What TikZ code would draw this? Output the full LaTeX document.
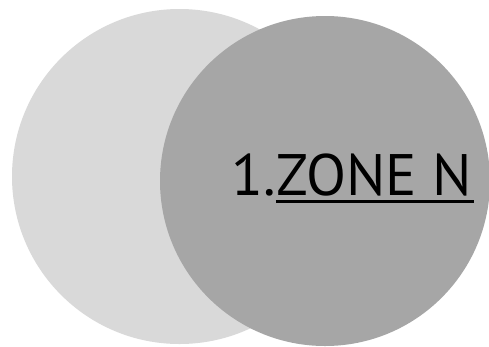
\documentclass[tikz,border=0pt]{standalone}
\usepackage{fontspec}
\setmainfont{PT Sans}
\definecolor{zonelight}{HTML}{D9D9D9}
\definecolor{zonedark}{HTML}{A6A6A6}

\begin{document}
\begin{tikzpicture}[x=1pt, y=-1pt,
  zonelabel/.style={inner sep=0pt, font=\fontsize{58.5}{60}\selectfont}]
  \clip (0,0) rectangle (489,346);
  \fill[white] (0,0) rectangle (489,346);
  \fill[zonelight] (179.5,176.5) circle[radius=167.5];
  \fill[zonedark] (325,181) circle[radius=165];
  \node[zonelabel, anchor=base west] (num) at (231,195) {1.};
  \node[zonelabel, anchor=base west] (zone) at (num.base east) {ZONE N};
  \draw[line width=3pt] ([yshift=-6pt]zone.base west) -- ([yshift=-6pt,xshift=2pt]zone.base east);
\end{tikzpicture}
\end{document}
